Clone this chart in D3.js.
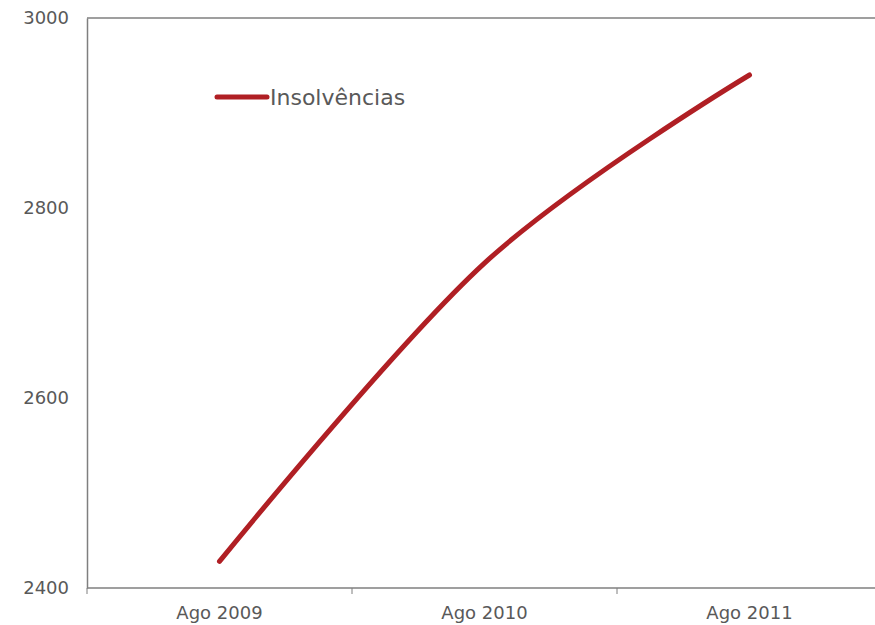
<!DOCTYPE html>
<html>
<head>
<meta charset="utf-8">
<script src="https://cdn.jsdelivr.net/npm/d3@7"></script>
<style>
  html, body { margin: 0; padding: 0; background: #fff; overflow: hidden; }
  svg { display: block; }
</style>
</head>
<body>
<svg id="chart" width="875" height="625"></svg>
<script>
// Insolvências, agosto de cada ano
const categories = ["Ago 2009", "Ago 2010", "Ago 2011"];
const insolvencias = [2428, 2742, 2940];
const yTicks = [2400, 2600, 2800, 3000];
const seriesName = "Insolvências";

const svg = d3.select("#chart");
const margin = { left: 87, top: 18, bottom: 36 };
const bandWidth = 265;
const plotW = bandWidth * categories.length;
const plotH = 625 - margin.top - margin.bottom - 1;

const g = svg.append("g").attr("transform", `translate(${margin.left},${margin.top})`);

const x = d3.scaleBand().domain(categories).range([0, plotW]).paddingInner(0).paddingOuter(0);
const y = d3.scaleLinear().domain([2400, 3000]).range([plotH, 0]);

const axisColor = "#7f7f7f";
const textColor = "#595959";
const font = "'DejaVu Sans', Verdana, sans-serif";

// frame: top and left border
g.append("line").attr("x1", 0).attr("x2", plotW + 10).attr("y1", 0).attr("y2", 0)
  .attr("stroke", axisColor).attr("stroke-width", 1.5);

// y axis (labels only, no tick marks)
const yAxis = g.append("g").call(d3.axisLeft(y).tickValues(yTicks).tickSize(0).tickPadding(18).tickFormat(d3.format("d")));
yAxis.select(".domain").attr("stroke", axisColor).attr("stroke-width", 1.5);
yAxis.selectAll("text").attr("fill", textColor).attr("font-family", font).attr("font-size", 18)
  .style("font-family", font).style("font-size", "18px");

// x axis with ticks at band boundaries
const xAxis = g.append("g").attr("transform", `translate(0,${plotH})`);
xAxis.append("line").attr("x1", 0).attr("x2", plotW + 10).attr("y1", 0).attr("y2", 0)
  .attr("stroke", axisColor).attr("stroke-width", 1.5);
xAxis.selectAll("line.tick").data(categories).enter().append("line")
  .attr("class", "tick")
  .attr("x1", d => x(d)).attr("x2", d => x(d))
  .attr("y1", 0).attr("y2", 6)
  .attr("stroke", axisColor).attr("stroke-width", 1);
xAxis.selectAll("text").data(categories).enter().append("text")
  .attr("x", d => x(d) + x.bandwidth() / 2)
  .attr("y", 31)
  .attr("text-anchor", "middle")
  .attr("fill", textColor)
  .style("font-family", font).style("font-size", "18px")
  .text(d => d);

// smoothed series line
const line = d3.line()
  .x((d, i) => x(categories[i]) + x.bandwidth() / 2)
  .y(d => y(d))
  .curve(d3.curveCardinal.tension(0));

const red = "#b01f24";
g.append("path").datum(insolvencias)
  .attr("d", line)
  .attr("fill", "none")
  .attr("stroke", red)
  .attr("stroke-width", 5)
  .attr("stroke-linecap", "round");

// legend
const legend = g.append("g").attr("transform", `translate(130,79)`);
legend.append("line").attr("x1", 0).attr("x2", 50).attr("y1", 0).attr("y2", 0)
  .attr("stroke", red).attr("stroke-width", 5).attr("stroke-linecap", "round");
legend.append("text").attr("x", 53).attr("y", 0).attr("dy", "0.35em")
  .attr("fill", textColor).style("font-family", font).style("font-size", "22px")
  .text(seriesName);
</script>
</body>
</html>
